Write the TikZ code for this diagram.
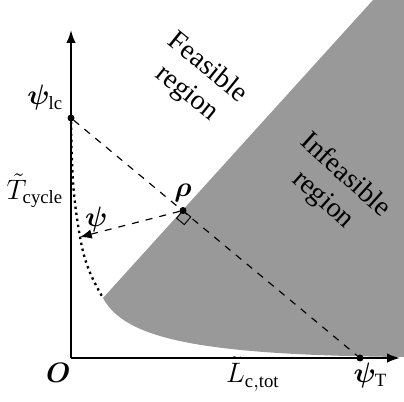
\documentclass[tikz,border=0pt]{standalone}
\usepackage{fontspec}
\setmainfont{Liberation Serif}
\usepackage{amsmath}
\usepackage{bm}
\usetikzlibrary{arrows.meta}
\definecolor{infgray}{RGB}{153,153,153}
\begin{document}
\begin{tikzpicture}[x=0.015cm,y=0.015cm,font=\large,
    every label/.style={inner sep=2pt},
    dot/.style={inner sep=0.9pt,circle,draw,fill},
    axis/.style={line width=0.8pt,-{Latex[length=5.5pt,width=4pt]}}]
   \useasboundingbox (0,0) rectangle (404,401);
   \fill[infgray] (373,401) -- (404,401) -- (404,44)
      .. controls (200,46) and (125,62) .. (103,103) -- cycle;
   \coordinate[label={[xshift=2pt]below left:$\bm{O}$}] (O) at (71,43);
   \coordinate (xend) at (400,43);
   \coordinate (yend) at (71,371);
   \draw[axis] (O) -- (xend);
   \draw[axis] (O) -- (yend);
   \node[dot,label={above left:$\bm{\psi}_{\mathrm{lc}}$}] (lc) at (71,283) {};
   \node[dot,label={above:$\bm{\rho}$}] (rho) at (183,190.5) {};
   \node[dot,label={[label distance=-1.5pt,xshift=4.5pt]below:$\bm{\psi}_{\mathrm{T}}$}] (psiT) at (360,43) {};
   \coordinate[label={above right:$\bm{\psi}$}] (psi) at (80,164);
   \coordinate (tip) at (103,103);
   \draw[dashed,line width=0.5pt] (lc) -- (psiT);
   \draw[dashed,line width=0.5pt,-{Latex[length=5pt,width=4pt]}] (rho) -- (psi);
   \draw[line width=1pt,dash pattern=on 1pt off 1.6pt]
      (lc) to[out=-89,in=100] (psi) to[out=-80,in=120] (tip);
   \draw[shift={(rho)},rotate=-39.7] (0,0) -- (10,0) -- (10,-10) -- (0,-10) -- cycle;
   \node[rotate=-39,align=center] (feas) at (197,320) {Feasible\\region};
   \node[rotate=-42,align=center] (infeas) at (334,213) {Infeasible\\region};
   \node (tlab) at (35,210) {$\tilde{T}_{\mathrm{cycle}}$};
   \node (llab) at (253,27) {$\tilde{L}_{\mathrm{c,tot}}$};
\end{tikzpicture}
\end{document}
